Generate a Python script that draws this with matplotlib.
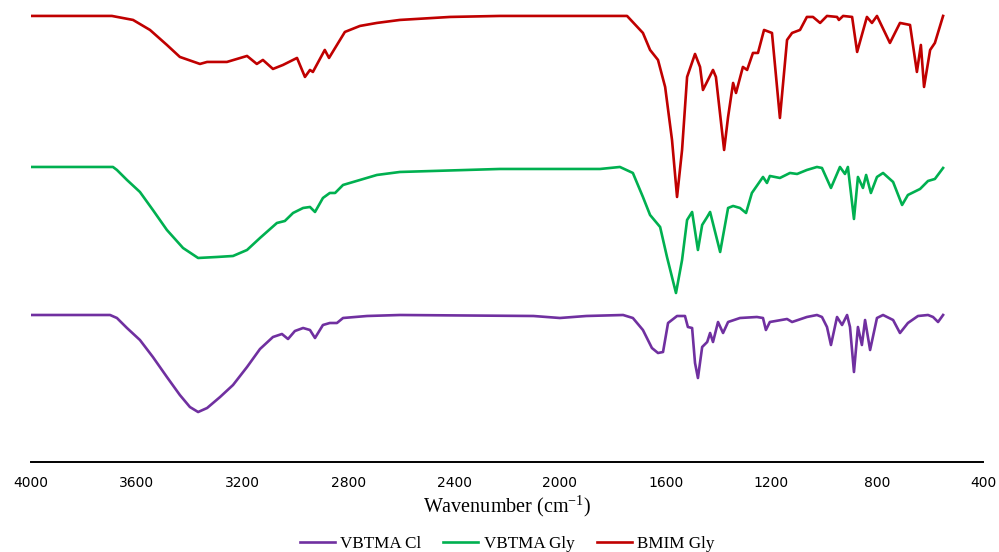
import numpy as np
import matplotlib
matplotlib.use('Agg')
import matplotlib.pyplot as plt

plt.rcParams['font.family'] = ['Liberation Serif', 'DejaVu Serif']
plt.rcParams['mathtext.fontset'] = 'custom'
plt.rcParams['mathtext.rm'] = 'Liberation Serif'

# BMIM Gly (top trace)
wn_bmim = [4000, 3694, 3614, 3550, 3486, 3437, 3361, 3334, 3259, 3183, 3146, 3123, 3085, 3047,
           2994, 2964, 2945, 2934, 2889, 2873, 2813, 2756, 2692, 2605, 2415, 2227, 1848, 1746,
           1686, 1659, 1629, 1602, 1576, 1557, 1538, 1519, 1489, 1470, 1459, 1421, 1410, 1379,
           1364, 1345, 1334, 1308, 1292, 1270, 1251, 1228, 1198, 1168, 1141, 1122, 1092, 1066,
           1043, 1016, 990, 952, 945, 929, 895, 876, 839, 820, 801, 752, 714, 676, 650, 635,
           623, 600, 582, 551]
t_bmim = [446, 446, 442, 432, 417, 405, 398, 400, 400, 406, 398, 402, 393, 397, 404, 385, 392,
          390, 412, 404, 430, 436, 439, 442, 445, 446, 446, 446, 429, 412, 402, 375, 322, 265,
          312, 385, 408, 395, 372, 392, 385, 312, 345, 379, 369, 395, 392, 409, 409, 432, 429,
          344, 422, 429, 432, 445, 445, 439, 446, 445, 442, 446, 445, 410, 445, 439, 446, 419,
          439, 437, 390, 417, 375, 412, 419, 446]

# VBTMA Gly (middle trace)
wn_gly = [4000, 3690, 3675, 3637, 3588, 3539, 3486, 3425, 3368, 3297, 3236, 3183, 3134, 3070,
          3040, 3009, 2971, 2945, 2926, 2896, 2870, 2850, 2820, 2756, 2692, 2605, 2227, 1848,
          1773, 1724, 1686, 1659, 1621, 1595, 1561, 1538, 1519, 1500, 1478, 1462, 1443, 1432,
          1394, 1364, 1345, 1319, 1296, 1274, 1232, 1217, 1206, 1168, 1130, 1103, 1066, 1028,
          1009, 975, 941, 922, 911, 888, 873, 854, 842, 824, 801, 778, 740, 706, 684, 638, 608,
          582, 551]
t_gly = [295, 295, 292, 282, 270, 252, 232, 214, 204, 205, 206, 212, 224, 239, 241, 249, 254,
         255, 250, 264, 269, 269, 277, 282, 287, 290, 293, 293, 295, 289, 265, 247, 235, 205,
         169, 202, 242, 250, 212, 237, 245, 250, 210, 254, 256, 254, 249, 269, 285, 279, 286,
         284, 289, 288, 292, 295, 294, 274, 295, 288, 295, 243, 285, 274, 287, 269, 285, 289,
         280, 257, 267, 273, 281, 283, 294]

# VBTMA Cl (bottom trace)
wn_cl = [4000, 3701, 3675, 3637, 3588, 3539, 3486, 3437, 3399, 3368, 3334, 3285, 3236, 3183,
         3134, 3085, 3051, 3028, 3002, 2971, 2945, 2926, 2896, 2870, 2843, 2820, 2729, 2605,
         2100, 2000, 1900, 1761, 1724, 1686, 1652, 1629, 1610, 1591, 1557, 1527, 1516, 1500,
         1489, 1478, 1462, 1443, 1432, 1421, 1402, 1383, 1364, 1319, 1255, 1232, 1221, 1206,
         1141, 1122, 1066, 1028, 1009, 990, 975, 952, 933, 914, 903, 888, 873, 858, 846, 827,
         801, 778, 740, 714, 684, 646, 608, 589, 570, 551]
t_cl = [147, 147, 144, 134, 122, 105, 85, 67, 55, 50, 54, 65, 77, 95, 113, 125, 128, 123, 131,
        134, 132, 124, 137, 139, 139, 144, 146, 147, 146, 144, 146, 147, 144, 132, 114, 109, 110,
        139, 146, 146, 135, 134, 99, 84, 115, 120, 129, 120, 140, 129, 140, 144, 145, 144, 132,
        140, 143, 140, 145, 147, 145, 135, 117, 145, 137, 147, 135, 90, 135, 117, 142, 112, 144,
        147, 142, 129, 139, 146, 147, 145, 140, 147]

xticks = [4000, 3600, 3200, 2800, 2400, 2000, 1600, 1200, 800, 400]

fig = plt.figure(figsize=(9.99, 5.52), dpi=100)
ax = fig.add_axes([0.031, 0.163, 0.953, 0.819])

ax.plot(wn_cl, t_cl, color='#7030A0', lw=1.9, label='VBTMA Cl')
ax.plot(wn_gly, t_gly, color='#00B050', lw=1.9, label='VBTMA Gly')
ax.plot(wn_bmim, t_bmim, color='#C00000', lw=1.9, label='BMIM Gly')

ax.set_xlim(4000, 400)
ax.set_ylim(0, 452)
ax.set_xticks(xticks)
ax.set_xticklabels([str(t) for t in xticks], family='DejaVu Sans', fontsize=10)
ax.set_yticks([])
ax.tick_params(axis='x', length=0, pad=10)
for s in ['top', 'right', 'left']:
    ax.spines[s].set_visible(False)
ax.spines['bottom'].set_linewidth(1.4)
ax.set_xlabel('Wavenumber (cm$^{\\mathrm{-1}}$)', fontsize=14.5, labelpad=2)

fig.legend(loc='center', bbox_to_anchor=(0.5075, 0.014), ncol=3, frameon=False,
           fontsize=12.3, handlelength=2.05, handletextpad=0.3, columnspacing=1.3)

fig.savefig('out.png', dpi=100)
